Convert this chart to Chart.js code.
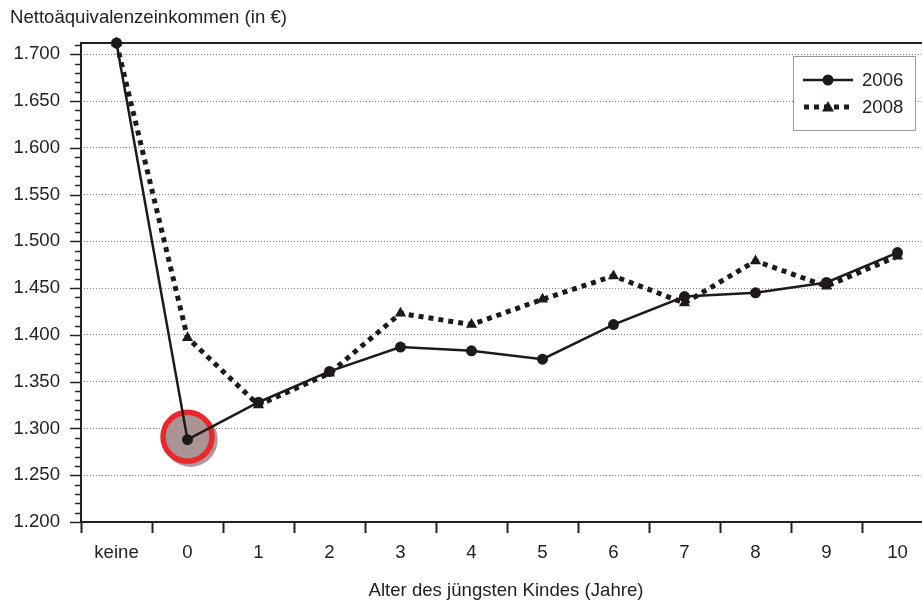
<!DOCTYPE html>
<html lang="de">
<head>
    <meta charset="UTF-8">
    <title>Nettoäquivalenzeinkommen</title>
    <script src="https://cdn.jsdelivr.net/npm/chart.js"></script>
    <style>
        html, body { margin: 0; padding: 0; background: #fff; overflow: hidden; }
        #wrap { width: 940px; height: 600px; }
    </style>
</head>
<body>
    <div id="wrap">
        <canvas id="myChart" width="940" height="600"></canvas>
    </div>

    <script>
        // Data
        const categories = ['keine', '0', '1', '2', '3', '4', '5', '6', '7', '8', '9', '10'];
        const values2006 = [1712, 1288, 1328, 1361, 1387, 1383, 1374, 1411, 1441, 1445, 1456, 1488];
        const values2008 = [1712, 1397, 1325, 1359, 1423, 1411, 1438, 1463, 1434, 1479, 1452, 1484];
        const seriesLabels = ['2006', '2008'];
        const yMin = 1200;
        const yMax = 1712;
        const yStep = 50;
        const highlightIndex = 1; // point "0" of 2006 is circled

        const yTitle = 'Nettoäquivalenzeinkommen (in €)';
        const xTitle = 'Alter des jüngsten Kindes (Jahre)';

        const FONT = "'Liberation Sans', Arial, sans-serif";
        const FONT_SIZE = 18.6;
        const INK = '#1e1a1a';
        const TEXT = '#222';

        // German thousands separator
        function fmt(v) {
            return String(v).replace(/\B(?=(\d{3})+$)/g, '.');
        }

        const extras = {
            id: 'extras',
            beforeDatasetsDraw(chart) {
                const ctx = chart.ctx;
                const area = chart.chartArea;
                const y = chart.scales.y;
                const x = chart.scales.x;

                ctx.save();
                ctx.strokeStyle = '#222';
                ctx.lineCap = 'butt';

                // y axis minor/major ticks
                for (let v = yMin; v <= yMax; v += 10) {
                    const py = Math.round(y.getPixelForValue(v)) + 0.5;
                    const major = v % yStep === 0;
                    ctx.lineWidth = 1.5;
                    ctx.beginPath();
                    ctx.moveTo(area.left - (major ? 11 : 6), py);
                    ctx.lineTo(area.left, py);
                    ctx.stroke();
                }

                // axis lines and top frame line
                ctx.lineWidth = 2;
                ctx.beginPath();
                ctx.moveTo(area.left, area.top);
                ctx.lineTo(area.left, area.bottom + 1);
                ctx.moveTo(area.left - 1, area.bottom);
                ctx.lineTo(area.right, area.bottom);
                ctx.moveTo(area.left - 1, area.top);
                ctx.lineTo(area.right, area.top);
                ctx.stroke();

                // highlight circle round the circled point (with a soft shadow)
                const cx = x.getPixelForValue(highlightIndex);
                const cy = y.getPixelForValue(values2006[highlightIndex]) - 3;
                const r = 24.5;
                ctx.beginPath();
                ctx.arc(cx + 3, cy + 3, r + 2.75, 0, Math.PI * 2);
                ctx.fillStyle = '#ad9a9a';
                ctx.fill();
                ctx.beginPath();
                ctx.arc(cx, cy, r, 0, Math.PI * 2);
                ctx.fillStyle = '#a99393';
                ctx.fill();
                ctx.lineWidth = 5.5;
                ctx.strokeStyle = '#e8282c';
                ctx.stroke();
                ctx.restore();
            },
            afterDraw(chart) {
                const ctx = chart.ctx;
                ctx.save();
                ctx.font = FONT_SIZE + 'px ' + FONT;
                ctx.fillStyle = TEXT;
                ctx.textBaseline = 'middle';

                // titles
                ctx.textAlign = 'left';
                ctx.fillText(yTitle, 10, 18);
                ctx.textAlign = 'center';
                ctx.fillText(xTitle, 506, 591);

                // legend box
                const lx = 793, ly = 56, lw = 122, lh = 74;
                ctx.fillStyle = '#fff';
                ctx.fillRect(lx, ly, lw, lh);
                ctx.strokeStyle = '#999';
                ctx.lineWidth = 1;
                ctx.strokeRect(lx + 0.5, ly + 0.5, lw, lh);

                const rows = [80, 107];
                chart.data.datasets.forEach((ds, i) => {
                    const ry = rows[i];
                    ctx.save();
                    ctx.strokeStyle = ds.borderColor;
                    ctx.lineWidth = ds.borderWidth;
                    ctx.setLineDash(ds.borderDash || []);
                    ctx.beginPath();
                    if (ds.borderDash) {
                        ctx.moveTo(804, ry);
                        ctx.lineTo(854, ry);
                    } else {
                        ctx.moveTo(803, ry);
                        ctx.lineTo(853, ry);
                    }
                    ctx.stroke();
                    ctx.restore();
                    // marker
                    ctx.fillStyle = INK;
                    ctx.beginPath();
                    if (ds.pointStyle === 'triangle') {
                        ctx.moveTo(828, ry - 6);
                        ctx.lineTo(834, ry + 4.5);
                        ctx.lineTo(822, ry + 4.5);
                        ctx.closePath();
                    } else {
                        ctx.arc(828, ry, 5.5, 0, Math.PI * 2);
                    }
                    ctx.fill();
                    ctx.fillStyle = TEXT;
                    ctx.textAlign = 'left';
                    ctx.fillText(ds.label, 862, ry + 1);
                });
                ctx.restore();
            }
        };

        const ctx = document.getElementById('myChart').getContext('2d');
        const myChart = new Chart(ctx, {
            type: 'line',
            data: {
                labels: categories,
                datasets: [
                    {
                        label: seriesLabels[0],
                        data: values2006,
                        borderColor: INK,
                        backgroundColor: INK,
                        borderWidth: 2.5,
                        pointStyle: 'circle',
                        pointRadius: 5.5,
                        pointBackgroundColor: INK,
                        pointBorderWidth: 0,
                        tension: 0,
                        clip: false,
                        order: 0
                    },
                    {
                        label: seriesLabels[1],
                        data: values2008,
                        borderColor: INK,
                        backgroundColor: INK,
                        borderWidth: 5,
                        borderDash: [5, 5],
                        borderCapStyle: 'butt',
                        pointStyle: 'triangle',
                        pointRadius: 6.5,
                        pointBackgroundColor: INK,
                        pointBorderWidth: 0,
                        tension: 0,
                        clip: false,
                        order: 1
                    }
                ]
            },
            options: {
                responsive: false,
                animation: false,
                layout: {
                    padding: { top: 43, right: 7, left: 0, bottom: 0 }
                },
                plugins: {
                    legend: { display: false },
                    tooltip: { enabled: false },
                    title: { display: false }
                },
                scales: {
                    x: {
                        type: 'category',
                        offset: true,
                        afterFit: function (scale) { scale.height = 78; },
                        grid: {
                            offset: true,
                            drawOnChartArea: false,
                            drawTicks: true,
                            tickLength: 11,
                            tickColor: '#222',
                            tickWidth: 2
                        },
                        border: { display: false },
                        ticks: {
                            autoSkip: false,
                            maxRotation: 0,
                            padding: 9,
                            color: TEXT,
                            font: { family: FONT, size: FONT_SIZE }
                        }
                    },
                    y: {
                        min: yMin,
                        max: yMax,
                        afterFit: function (scale) { scale.width = 81; },
                        grid: {
                            color: '#777',
                            lineWidth: 1,
                            drawTicks: false
                        },
                        border: { display: false, dash: [1, 2] },
                        ticks: {
                            stepSize: yStep,
                            includeBounds: false,
                            padding: 21,
                            color: TEXT,
                            font: { family: FONT, size: FONT_SIZE },
                            callback: function (value) { return fmt(value); }
                        }
                    }
                }
            },
            plugins: [extras]
        });
    </script>
</body>
</html>
